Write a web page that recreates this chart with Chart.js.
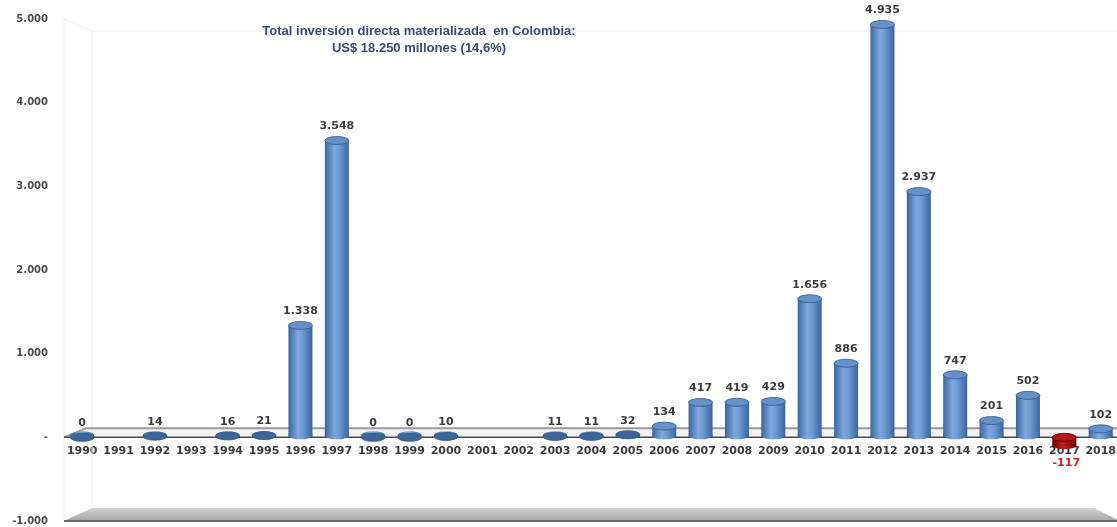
<!DOCTYPE html>
<html>
<head>
<meta charset="utf-8">
<script src="https://cdn.jsdelivr.net/npm/chart.js@4.4.1/dist/chart.umd.min.js"></script>
<style>
  html, body { margin: 0; padding: 0; background: #fff; overflow: hidden; }
  #wrap { position: relative; width: 1123px; height: 527px; }
</style>
</head>
<body>
<div id="wrap"><canvas id="chart"></canvas></div>
<script>
// ── Data ─────────────────────────────────────────────────────────────────────

const years = ['1990','1991','1992','1993','1994','1995','1996','1997','1998','1999',
               '2000','2001','2002','2003','2004','2005','2006','2007','2008','2009',
               '2010','2011','2012','2013','2014','2015','2016','2017','2018'];
const inversion = [0, null, 14, null, 16, 21, 1338, 3548, 0, 0,
                   10, null, null, 11, 11, 32, 134, 417, 419, 429,
                   1656, 886, 4935, 2937, 747, 201, 502, -117, 102];
const yTicks = [-1000, 0, 1000, 2000, 3000, 4000, 5000];
const titleLines = ['Total inversión directa materializada  en Colombia:',
                    'US$ 18.250 millones (14,6%)'];

const fmt = v => v === 0 ? '-' : v.toLocaleString('de-DE');
const fmtLabel = v => v.toLocaleString('de-DE');

// ── Helpers ──────────────────────────────────────────────────────────────────

function barGradient(ctx, x, w, neg) {
  const g = ctx.createLinearGradient(x - w / 2, 0, x + w / 2, 0);
  if (neg) {
    g.addColorStop(0, '#6e0000');
    g.addColorStop(0.45, '#c02020');
    g.addColorStop(1, '#700000');
  } else {
    g.addColorStop(0, '#3b679e');
    g.addColorStop(0.4, '#7ea8de');
    g.addColorStop(0.6, '#6d9ad3');
    g.addColorStop(1, '#3a64a0');
  }
  return g;
}

// ── Background: back wall, zero plane, floor ────────────────────────────────

const decor = {
  id: 'decor',
  beforeDatasetsDraw(chart) {
    const { ctx, chartArea: a, scales: { y } } = chart;
    const y0 = y.getPixelForValue(0);
    const yb = y.getPixelForValue(-1000);
    ctx.save();
    // back wall faint outline
    ctx.strokeStyle = '#eeeeee';
    ctx.lineWidth = 1;
    ctx.beginPath();
    ctx.moveTo(a.left, a.top);
    ctx.lineTo(a.left + 28, a.top + 12);
    ctx.lineTo(a.right, a.top + 12);
    ctx.moveTo(a.left + 28, a.top + 12);
    ctx.lineTo(a.left + 28, yb - 14);
    ctx.moveTo(a.left, a.top);
    ctx.lineTo(a.left, yb);
    ctx.stroke();

    // zero plane
    ctx.fillStyle = '#f2f2f2';
    ctx.beginPath();
    ctx.moveTo(a.left, y0);
    ctx.lineTo(a.left + 22, y0 - 9);
    ctx.lineTo(a.right, y0 - 9);
    ctx.lineTo(a.right, y0);
    ctx.closePath();
    ctx.fill();
    ctx.strokeStyle = '#9a9a9a';
    ctx.lineWidth = 2;
    ctx.beginPath();
    ctx.moveTo(a.left, y0);
    ctx.lineTo(a.left + 22, y0 - 9);
    ctx.lineTo(a.right, y0 - 9);
    ctx.stroke();

    // floor
    const fg = ctx.createLinearGradient(0, yb - 13, 0, yb);
    fg.addColorStop(0, '#d4d4d4');
    fg.addColorStop(1, '#a6a6a6');
    ctx.fillStyle = fg;
    ctx.beginPath();
    ctx.moveTo(a.left, yb);
    ctx.lineTo(a.left + 28, yb - 13);
    ctx.lineTo(a.left + 1030, yb - 13);
    ctx.lineTo(a.left + 1056, yb);
    ctx.closePath();
    ctx.fill();
    ctx.strokeStyle = '#6a6a6a';
    ctx.lineWidth = 2;
    ctx.beginPath();
    ctx.moveTo(a.left, yb);
    ctx.lineTo(a.left + 1056, yb);
    ctx.stroke();
    ctx.restore();
  },
  afterDatasetsDraw(chart) {
    const { ctx, chartArea: a, scales: { y } } = chart;
    const y0 = y.getPixelForValue(0);
    ctx.save();
    ctx.strokeStyle = '#4a4a4a';
    ctx.lineWidth = 1.5;
    ctx.beginPath();
    ctx.moveTo(a.left, y0);
    ctx.lineTo(a.right, y0);
    ctx.stroke();
    ctx.restore();
  }
};

// ── Cylinder caps + value labels ─────────────────────────────────────────────

const cylinders = {
  id: 'cylinders',
  afterDatasetsDraw(chart) {
    const { ctx } = chart;
    const meta = chart.getDatasetMeta(0);
    ctx.save();
    meta.data.forEach((bar, i) => {
      const v = inversion[i];
      if (v === null || v === undefined) return;
      const w = bar.width, x = bar.x;
      const neg = v < 0;
      const top = Math.min(bar.y, bar.base);
      const bot = Math.max(bar.y, bar.base);
      const ry = 4;
      // bottom ellipse
      ctx.fillStyle = barGradient(ctx, x, w, neg);
      ctx.beginPath();
      ctx.ellipse(x, bot - 2, w / 2, ry, 0, 0, Math.PI * 2);
      ctx.fill();
      // top cap
      ctx.fillStyle = neg ? '#b01818' : (Math.abs(v) < 60 ? '#3f6496' : '#6690c8');
      ctx.beginPath();
      ctx.ellipse(x, top, w / 2, ry, 0, 0, Math.PI * 2);
      ctx.fill();
      ctx.strokeStyle = neg ? '#5a0000' : '#34598c';
      ctx.lineWidth = 0.8;
      ctx.stroke();

      // label
      ctx.font = 'bold 11px "DejaVu Sans", Verdana, sans-serif';
      ctx.textAlign = 'center';
      ctx.textBaseline = 'middle';
      if (neg) {
        ctx.fillStyle = '#d82020';
        ctx.fillText(fmtLabel(v), x + 2, bot + 16);
      } else {
        ctx.fillStyle = '#3c3c3c';
        ctx.fillText(fmtLabel(v), x, top - 14);
      }
    });
    ctx.restore();
  }
};

// ── Title inside plot ────────────────────────────────────────────────────────

const innerTitle = {
  id: 'innerTitle',
  afterDraw(chart) {
    const { ctx } = chart;
    ctx.save();
    ctx.font = 'bold 13px "Liberation Sans", Arial, sans-serif';
    ctx.fillStyle = '#3a4a70';
    ctx.textAlign = 'center';
    ctx.textBaseline = 'middle';
    ctx.fillText(titleLines[0], 419, 31);
    ctx.fillText(titleLines[1], 419, 48);
    ctx.restore();
  }
};

// ── Chart ────────────────────────────────────────────────────────────────────

new Chart(document.getElementById('chart'), {
  type: 'bar',
  data: {
    labels: years,
    datasets: [{
      data: inversion,
      backgroundColor: ctx => {
        const chart = ctx.chart;
        if (!chart.chartArea) return '#4f81bd';
        const x = chart.scales.x.getPixelForValue(ctx.dataIndex);
        const w = chart.scales.x.width / years.length * 0.66;
        return barGradient(chart.ctx, x, w, (inversion[ctx.dataIndex] || 0) < 0);
      },
      borderWidth: 0,
      barPercentage: 0.66,
      categoryPercentage: 1.0,
    }]
  },
  options: {
    responsive: true,
    maintainAspectRatio: false,
    animation: false,
    layout: { padding: { top: 19, bottom: 6, left: 0, right: 0 } },
    plugins: { legend: { display: false }, tooltip: { enabled: false } },
    scales: {
      x: {
        position: { y: 0 },
        afterFit: s => { s.height = 0; },
        grid: { display: false, drawTicks: false },
        border: { display: false },
        ticks: {
          color: '#3c3c3c',
          font: { size: 11, weight: 'bold', family: '"DejaVu Sans", Verdana, sans-serif' },
          padding: 7,
          maxRotation: 0,
          autoSkip: false,
        }
      },
      y: {
        min: -1000,
        max: 5000,
        grid: { display: false, drawTicks: false },
        border: { display: false },
        afterBuildTicks: s => { s.ticks = yTicks.map(v => ({ value: v })); },
        afterFit: s => { s.width = 64; s.paddingTop = 0; s.paddingBottom = 0; },
        ticks: {
          color: '#4a4a4a',
          font: { size: 10, weight: 'bold', family: '"DejaVu Sans", Verdana, sans-serif' },
          padding: 16,
          callback: v => fmt(v),
        }
      }
    }
  },
  plugins: [decor, cylinders, innerTitle]
});
</script>
</body>
</html>
